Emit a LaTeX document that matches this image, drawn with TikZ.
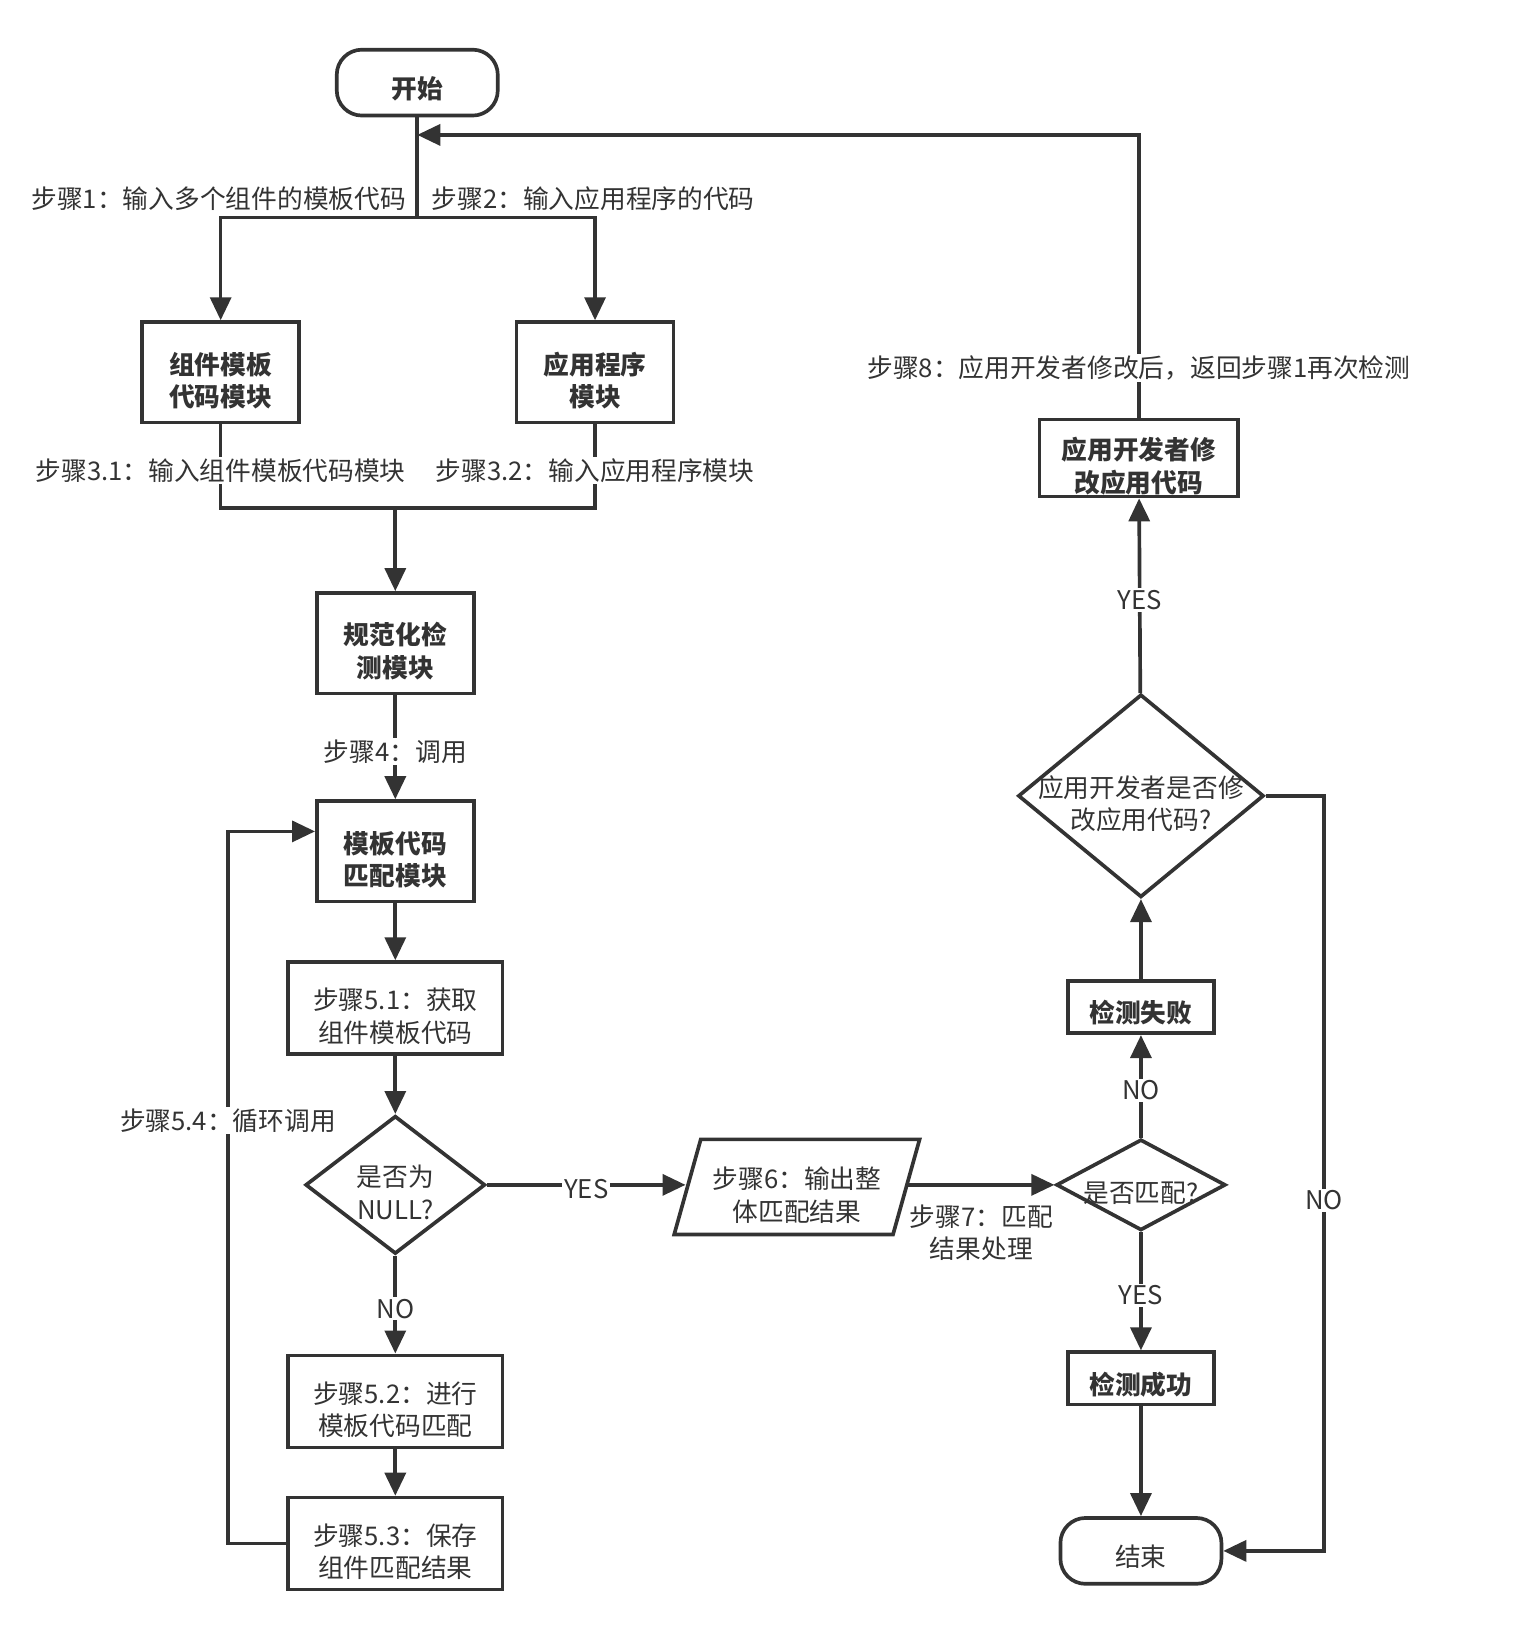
\documentclass[tikz,border=0pt]{standalone}
\usepackage{fontspec}
\setmainfont{Noto Sans CJK SC}
\usetikzlibrary{shapes.geometric, arrows.meta}

\definecolor{ink}{HTML}{333333}
% text block, drawn a little lower than its box
\newcommand{\ntext}[2][0.22cm]{\raisebox{-#1}[\height][\depth]{\begin{tabular}{@{}c@{}}#2\end{tabular}}}
\newcommand{\dtext}[1]{\makebox[0pt]{\ntext{#1}}}

\begin{document}
\begin{tikzpicture}[
    x=0.02cm, y=-0.02cm,
    every node/.style={font=\fontsize{14pt}{17.6pt}\selectfont, text=ink},
    terminal/.style={rectangle, rounded corners=0.48cm, draw=ink, line width=2pt, minimum width=3.08cm, minimum height=1.26cm},
    module/.style={rectangle, draw=ink, line width=2pt, minimum width=3cm, minimum height=1.92cm, font=\fontsize{14pt}{17.6pt}\selectfont\bfseries},
    result/.style={rectangle, draw=ink, line width=2pt, minimum width=2.8cm, minimum height=1cm, font=\fontsize{14pt}{17.6pt}\selectfont\bfseries},
    stepbox/.style={rectangle, draw=ink, line width=2pt, minimum width=4.1cm, minimum height=1.76cm},
    decision/.style={diamond, draw=ink, line width=2pt, inner sep=0pt},
    io/.style={trapezium, trapezium left angle=72, trapezium right angle=108, trapezium stretches=true, draw=ink, line width=2pt, minimum width=4.7cm, minimum height=1.82cm},
    lbl/.style={fill=white, inner sep=1pt, yshift=-0.08cm},
    line/.style={draw=ink, line width=2pt},
    arrow/.style={line, -{Triangle[length=0.44cm, width=0.4cm]}},
]
\useasboundingbox (0,0) rectangle (1462,1573);

% Input stage
\node[terminal, font=\fontsize{14pt}{17.6pt}\selectfont\bfseries] (start) at (399,79) {\ntext[0.18cm]{开始}};
\coordinate (split) at (399,208);
\node[module] (tpl) at (211,356) {\ntext{组件模板\\代码模块}};
\node[module] (app) at (569,356) {\ntext{应用程序\\模块}};
\draw[line] (start) -- (split);
\draw[arrow] (split) -| (tpl);
\draw[arrow] (split) -| (app);
\node[anchor=east, inner sep=2pt] (step1) at (392,190) {步骤1：输入多个组件的模板代码};
\node[anchor=west, inner sep=2pt] (step2) at (409,190) {步骤2：输入应用程序的代码};

% Normalisation
\coordinate (join) at (378,486);
\node[module] (norm) at (378,615) {\ntext{规范化检\\测模块}};
\draw[line] (tpl.south) -- node[lbl]{步骤3.1：输入组件模板代码模块} (tpl.south |- join) -- (join);
\draw[line] (app.south) -- node[lbl]{步骤3.2：输入应用程序模块} (app.south |- join) -- (join);
\draw[arrow] (join) -- (norm);

% Matching loop
\node[module] (match) at (378,814) {\ntext{模板代码\\匹配模块}};
\node[stepbox] (fetch) at (378,964) {\ntext{步骤5.1：获取\\组件模板代码}};
\node[decision, minimum width=3.44cm, minimum height=2.64cm] (isnull) at (378,1133) {\dtext{是否为\\NULL?}};
\node[stepbox] (compare) at (378,1340) {\ntext{步骤5.2：进行\\模板代码匹配}};
\node[stepbox] (save) at (378,1476) {\ntext{步骤5.3：保存\\组件匹配结果}};
\draw[arrow] (norm) -- node[lbl]{步骤4：调用} (match);
\draw[arrow] (match) -- (fetch);
\draw[arrow] (fetch) -- (isnull);
\draw[arrow] (isnull) -- node[lbl]{NO} (compare);
\draw[arrow] (compare) -- (save);
\coordinate (loopbot) at (218,1476);
\coordinate (looptop) at (218,795);
\draw[arrow] (save.west) -- (loopbot) -- node[lbl, pos=0.6]{步骤5.4：循环调用} (looptop) -- (looptop -| match.west);

% Output and check
\node[io] (output) at (762,1135) {\ntext{步骤6：输出整\\体匹配结果}};
\node[decision, minimum width=3.24cm, minimum height=1.74cm] (ismatch) at (1091,1133) {\dtext{是否匹配?}};
\draw[arrow] (isnull) -- node[lbl]{YES} (isnull -| output.west);
\draw[arrow] (output.east |- ismatch) -- node[below=2pt, yshift=-0.16cm, align=center]{步骤7：匹配\\结果处理} (ismatch);

\node[result] (fail) at (1091,963) {\ntext[0.18cm]{检测失败}};
\node[result] (pass) at (1091,1318) {\ntext[0.18cm]{检测成功}};
\node[decision, minimum width=4.7cm, minimum height=3.88cm] (modify) at (1091,761) {\dtext{应用开发者是否修\\改应用代码?}};
\node[module, minimum width=3.8cm, minimum height=1.4cm] (fix) at (1089,438) {\ntext{应用开发者修\\改应用代码}};
\node[terminal] (stop) at (1091,1483) {\ntext[0.18cm]{结束}};
\draw[arrow] (ismatch) -- node[lbl]{NO} (fail);
\draw[arrow] (fail) -- (modify);
\draw[arrow] (modify) -- node[lbl]{YES} (fix);
\draw[arrow] (ismatch) -- node[lbl]{YES} (pass);
\draw[arrow] (pass) -- (stop);
\coordinate (nocorner) at (1266,1483);
\draw[arrow] (modify.east) -- (modify.east -| nocorner) -- node[lbl, pos=0.53]{NO} (nocorner) -- (stop.east);

% Feedback to start
\coordinate (back) at (1089,129);
\draw[arrow] (fix) -- node[lbl, pos=0.19]{步骤8：应用开发者修改后，返回步骤1再次检测} (back) -- (back -| start);

\end{tikzpicture}
\end{document}
